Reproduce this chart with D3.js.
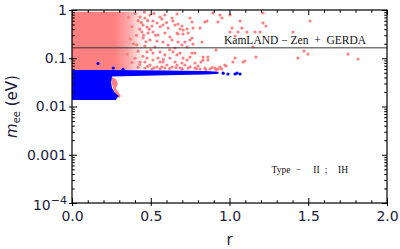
<!DOCTYPE html>
<html><head><meta charset="utf-8">
<script src="https://cdn.jsdelivr.net/npm/d3@7"></script>
<style>body{margin:0;background:#fff}svg{display:block}</style>
</head><body><svg id="c" width="400" height="249"></svg>
<script>
// ---- data ----
const xTicks = [0, 0.5, 1, 1.5, 2];
const xTickLabels = ["0.0", "0.5", "1.0", "1.5", "2.0"];
const yTicks = [1e-4, 1e-3, 1e-2, 1e-1, 1];
const yTickLabels = ["10^-4", "0.001", "0.01", "0.1", "1"];
const boundValue = 0.165;               // KamLAND-Zen + GERDA bound
const boundLabel = "KamLAND \u2212 Zen  +  GERDA";
const caseLabel = ["Type", "\u2212", "II", ";", "IH"];
// dense pink region (r, m_ee)
const pinkDense = [[0, 0.92], [0.46, 0.92], [0.46, 0.057], [0, 0.057]];
// pink sliver beside the blue blob
const pinkNotch = [[0.254, 0.0409], [0.279, 0.0372], [0.292, 0.0293], [0.279, 0.0242], [0.292, 0.0200],
  [0.311, 0.0165], [0.298, 0.0150], [0.273, 0.0182], [0.260, 0.0242], [0.248, 0.0354]];
// dense blue region
const blueBlob = [[0, 0.057], [0.256, 0.057], [0.254, 0.0409], [0.248, 0.0322], [0.254, 0.0242],
  [0.273, 0.0190], [0.298, 0.0165], [0.286, 0.0150], [0.279, 0.0136], [0, 0.0136]];
const blueBand = [[0.24, 0.057], [0.6, 0.0559], [0.85, 0.0545], [0.93, 0.0525],
  [0.93, 0.0475], [0.85, 0.0462], [0.6, 0.0445], [0.25, 0.0420]];
// scattered pink points (r, m_ee)
const pinkPoints = [
  [.432,.716],[.463,.682],[.495,.788],[.514,.592],[.559,.716],[.571,.651],[.590,.788],[.635,.682],[.641,.592],
  [.451,.489],[.476,.444],[.508,.466],[.540,.538],[.578,.489],[.610,.423],[.654,.489],
  [.444,.350],[.483,.334],[.514,.350],[.546,.303],[.590,.334],[.622,.276],[.667,.334],
  [.451,.263],[.495,.239],[.540,.228],[.578,.217],[.635,.239],
  [.463,.179],[.527,.171],[.610,.188],[.654,.163],
  [.476,.135],[.514,.128],[.559,.135],[.590,.117],[.641,.135],[.667,.117],
  [.476,.101],[.514,.092],[.546,.101],[.578,.0836],[.622,.101],[.654,.0836],
  [.495,.0725],[.540,.0659],[.603,.0725],[.635,.0659],[.667,.0725],
  [.667,.826],[.749,.682],[.762,.564],[.844,.564],[.857,.592],[.940,.788],[.927,.564],
  [.673,.513],[.698,.466],[.686,.404],[.705,.385],[.730,.404],[.768,.423],[.813,.423],
  [.673,.318],[.705,.318],[.737,.334],[.762,.263],[.673,.217],[.717,.217],[.749,.239],
  [.698,.188],[.730,.171],[.768,.197],[1.016,.423],[1.003,.350],[1.054,.350],[1.111,.350],
  [.686,.128],[.762,.128],[.781,.128],[.749,.106],[.832,.106],[.863,.106],[.832,.092],[.863,.092],
  [.698,.0797],[.717,.0725],[.737,.0628],[.908,.0628],[.940,.0659],[.971,.0725],[1.022,.0836],[1.035,.101],
  [.895,.867],[.952,.682],[1.003,.788],[1.067,.592],[1.079,.423],[1.035,.289],[1.162,.350],[1.194,.350],
  [1.213,.867],[1.213,.538],[1.232,.466],[1.403,.350],[1.511,.592],[1.149,.171],[.914,.148],[.825,.217],
  [1.473,.141],[1.498,.122],[1.435,.101],[1.168,.106],[1.752,.122],[1.816,.0965],[1.098,.0877],[1.086,.0836],
  [.978,.0691],[.927,.0599],[.914,.058],[.819,.0836],
  [.432,.0836],[.463,.0836],[.559,.0836],[.463,.0628],[.508,.0599],[.559,.0599],[.590,.0628],[.686,.0628],
  [.781,.0628],[.813,.0599],[.844,.0628],[.876,.0599],[.705,.101],[.730,.092],[.781,.0797],[.800,.0691],
  [.40,.85],[.42,.60],[.38,.45],[.41,.30],[.39,.20],[.42,.14],[.40,.10],[.43,.075],[.36,.70],[.37,.25],
  [.35,.12],[.44,.55],[.43,.40],[.41,.19],[.45,.11],[.38,.082],[.42,.065],[.46,.90],[.455,.30],[.47,.22],
  [.48,.60],[.49,.40],[.50,.15],[.52,.85],[.53,.30],[.56,.45],[.58,.095],[.60,.55],[.62,.15],[.48,.068],
  [.52,.063],[.57,.066],[.62,.061],[.66,.064],[.70,.060],[.75,.066],[.79,.061],[.85,.058],[.89,.064],[.95,.060]
];
// scattered blue points (r, m_ee)
const bluePoints = [[0.165, 0.0778], [0.262, 0.0628], [0.324, 0.059],
  [0.96, 0.049], [0.99, 0.0472], [1.035, 0.0472], [1.048, 0.0494], [1.067, 0.0472]];

// ---- chart ----
const W = 400, H = 249;
const mg = {l: 72, r: 13, t: 10, b: 46};
const svg = d3.select("#c");
const x = d3.scaleLinear().domain([0, 2]).range([mg.l, W - mg.r]);
const y = d3.scaleLog().domain([1e-4, 1]).range([H - mg.b, mg.t]);
const pink = "#ff8080", blue = "#0000ff", ink = "#1c1c3a";

const defs = svg.append("defs");
const grad = defs.append("linearGradient").attr("id", "fade")
  .attr("gradientUnits", "userSpaceOnUse")
  .attr("x1", x(0.27)).attr("x2", x(0.46)).attr("y1", 0).attr("y2", 0);
grad.append("stop").attr("offset", 0).attr("stop-color", pink).attr("stop-opacity", 1);
grad.append("stop").attr("offset", 0.45).attr("stop-color", pink).attr("stop-opacity", 0.7);
grad.append("stop").attr("offset", 1).attr("stop-color", pink).attr("stop-opacity", 0);
defs.append("clipPath").attr("id", "clip").append("rect")
  .attr("x", mg.l).attr("y", mg.t).attr("width", W - mg.l - mg.r).attr("height", H - mg.t - mg.b);

const line = d3.line().x(d => x(d[0])).y(d => y(d[1]));
const g = svg.append("g").attr("clip-path", "url(#clip)");
g.append("path").attr("d", line(pinkDense) + "Z").attr("fill", "url(#fade)");
g.selectAll("circle.p").data(pinkPoints).join("circle").attr("class", "p")
  .attr("cx", d => x(d[0])).attr("cy", d => y(d[1])).attr("r", 1.6).attr("fill", pink);
g.append("path").attr("d", line(pinkNotch) + "Z").attr("fill", pink);
g.append("path").attr("d", line(blueBlob) + "Z").attr("fill", blue);
g.append("path").attr("d", line(blueBand) + "Z").attr("fill", blue);
g.selectAll("circle.b").data(bluePoints).join("circle").attr("class", "b")
  .attr("cx", d => x(d[0])).attr("cy", d => y(d[1])).attr("r", 1.6).attr("fill", blue);

// bound line
g.append("line").attr("x1", mg.l).attr("x2", W - mg.r).attr("y1", y(boundValue)).attr("y2", y(boundValue))
  .attr("stroke", "#333").attr("stroke-opacity", 0.65).attr("stroke-width", 1.6);

// axes
const yMinor = [];
for (let k = -4; k < 0; k++) for (let j = 2; j <= 9; j++) yMinor.push(j * Math.pow(10, k));
const xMinor = d3.range(0, 2.0001, 0.1).filter(v => Math.abs(v * 2 - Math.round(v * 2)) > 1e-6);

function styleAxis(sel) {
  sel.select(".domain").remove();
  sel.selectAll("line").attr("stroke", "#000");
  sel.selectAll("text").attr("fill", ink).style("font-family", "DejaVu Sans").style("font-size", "14px");
}
const axB = svg.append("g").attr("transform", `translate(0,${H - mg.b})`)
  .call(d3.axisBottom(x).tickValues(xTicks).tickFormat((d, i) => xTickLabels[i]).tickSizeInner(-5).tickSizeOuter(0).tickPadding(8));
styleAxis(axB);
axB.selectAll(".tick line").attr("y1", 3);
const axBm = svg.append("g").attr("transform", `translate(0,${H - mg.b})`)
  .call(d3.axisBottom(x).tickValues(xMinor).tickFormat("").tickSizeInner(-2.8).tickSizeOuter(0));
styleAxis(axBm);
const axT = svg.append("g").attr("transform", `translate(0,${mg.t})`)
  .call(d3.axisTop(x).tickValues(xTicks).tickFormat("").tickSizeInner(-5).tickSizeOuter(0));
styleAxis(axT);
const axTm = svg.append("g").attr("transform", `translate(0,${mg.t})`)
  .call(d3.axisTop(x).tickValues(xMinor).tickFormat("").tickSizeInner(-2.8).tickSizeOuter(0));
styleAxis(axTm);

const axL = svg.append("g").attr("transform", `translate(${mg.l},0)`)
  .call(d3.axisLeft(y).tickValues(yTicks).tickFormat((d, i) => yTickLabels[i] === "10^-4" ? "" : yTickLabels[i])
    .tickSizeInner(-5).tickSizeOuter(0).tickPadding(5));
styleAxis(axL);
axL.selectAll(".tick line").attr("x1", -3);
const axLm = svg.append("g").attr("transform", `translate(${mg.l},0)`)
  .call(d3.axisLeft(y).tickValues(yMinor).tickFormat("").tickSizeInner(-2.8).tickSizeOuter(0));
styleAxis(axLm);
const axR = svg.append("g").attr("transform", `translate(${W - mg.r},0)`)
  .call(d3.axisRight(y).tickValues(yTicks).tickFormat("").tickSizeInner(-5).tickSizeOuter(0));
styleAxis(axR);
const axRm = svg.append("g").attr("transform", `translate(${W - mg.r},0)`)
  .call(d3.axisRight(y).tickValues(yMinor).tickFormat("").tickSizeInner(-2.8).tickSizeOuter(0));
styleAxis(axRm);

// 10^-4 label
const sup = svg.append("text").attr("x", mg.l - 5).attr("y", y(1e-4) + 7).attr("text-anchor", "end")
  .attr("fill", ink).style("font-family", "DejaVu Sans").style("font-size", "14px");
sup.append("tspan").text("10");
sup.append("tspan").attr("dy", -6).style("font-size", "11px").text("\u22124");

// frame
svg.append("rect").attr("x", mg.l).attr("y", mg.t).attr("width", W - mg.l - mg.r).attr("height", H - mg.t - mg.b)
  .attr("fill", "none").attr("stroke", "#000").attr("stroke-width", 1.2);

// axis titles
svg.append("text").attr("x", (x(0) + x(2)) / 2).attr("y", 245).attr("text-anchor", "middle")
  .attr("fill", ink).style("font-family", "DejaVu Sans").style("font-size", "15px").text("r");
const yl = svg.append("text").attr("transform", `translate(17,${(y(1) + y(1e-4)) / 2}) rotate(-90)`)
  .attr("text-anchor", "middle").attr("fill", ink).style("font-family", "DejaVu Sans").style("font-size", "15px");
yl.append("tspan").style("font-style", "italic").text("m");
yl.append("tspan").attr("dy", 3).style("font-size", "10px").text("ee");
yl.append("tspan").attr("dy", -3).text(" (eV)");

// annotations
svg.append("text").attr("x", 224).attr("y", 44).attr("xml:space", "preserve").style("white-space", "pre")
  .attr("fill", "#111").style("font-family", "Liberation Serif").style("font-size", "11.5px").text(boundLabel);
const caseX = [281, 298.5, 316.5, 326, 343];
svg.selectAll("text.case").data(caseLabel).join("text").attr("class", "case")
  .attr("x", (d, i) => caseX[i]).attr("y", 172.5).attr("text-anchor", "middle")
  .attr("fill", "#111").style("font-family", "Liberation Serif").style("font-size", "9.5px").text(d => d);
</script></body></html>
